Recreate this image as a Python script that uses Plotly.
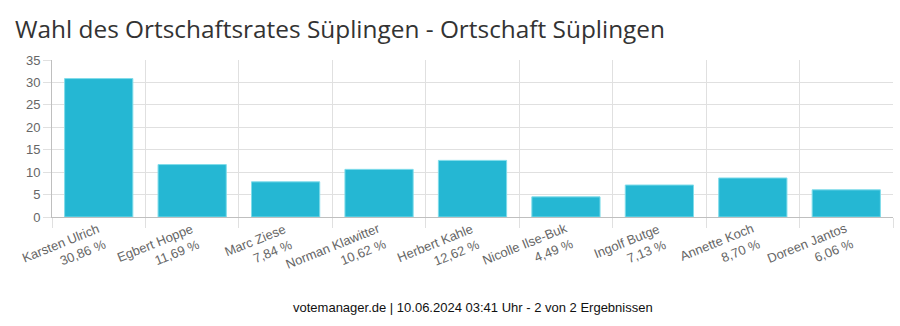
import plotly.graph_objects as go

names = ["Karsten Ulrich", "Egbert Hoppe", "Marc Ziese", "Norman Klawitter",
         "Herbert Kahle", "Nicolle Ilse-Buk", "Ingolf Butge", "Annette Koch",
         "Doreen Jantos"]
values = [30.86, 11.69, 7.84, 10.62, 12.62, 4.49, 7.13, 8.70, 6.06]
pct_labels = ["30,86 %", "11,69 %", "7,84 %", "10,62 %", "12,62 %",
              "4,49 %", "7,13 %", "8,70 %", "6,06 %"]
title_text = "Wahl des Ortschaftsrates Süplingen - Ortschaft Süplingen"
footer_text = "votemanager.de | 10.06.2024 03:41 Uhr - 2 von 2 Ergebnissen"

fig = go.Figure()
fig.add_trace(go.Bar(
    x=names, y=values, width=0.73,
    marker=dict(color="#25b7d3", line=dict(color="#7fdcea", width=1)),
    hoverinfo="skip",
))

annotations = []
for n, p in zip(names, pct_labels):
    annotations.append(dict(
        x=n, xref="x", y=0, yref="paper", text=f"{n}<br>{p}",
        showarrow=False, xanchor="right", yanchor="top", yshift=-1, xshift=12,
        textangle=-22, align="right",
        font=dict(family="Liberation Sans, Arial", size=13, color="#666666"),
    ))
annotations.append(dict(
    x=0.5, xref="paper", y=0, yref="paper", text=footer_text,
    showarrow=False, xanchor="center", yanchor="middle", yshift=-90,
    font=dict(family="Liberation Sans, Arial", size=13, color="#111111"),
))

fig.update_layout(
    width=900, height=326,
    margin=dict(l=52, r=7, t=60, b=109),
    paper_bgcolor="white", plot_bgcolor="white",
    showlegend=False,
    title=dict(text=title_text, x=15 / 900, xanchor="left", xref="container",
               y=1 - 29 / 326, yanchor="middle", yref="container",
               font=dict(family="Open Sans", size=24.4, color="#333333")),
    xaxis=dict(type="category", tickson="boundaries", ticks="outside",
               ticklen=10, tickcolor="#e0e0e0", showticklabels=False,
               showgrid=True, gridcolor="#e0e0e0", gridwidth=1,
               showline=True, linecolor="#bfbfbf", linewidth=1,
               range=[-0.5, 8.5], fixedrange=True),
    yaxis=dict(range=[0, 35], dtick=5, ticks="outside", ticklen=8,
               tickcolor="#e0e0e0", showgrid=True, gridcolor="#e0e0e0",
               zeroline=False, showline=True, linecolor="#bfbfbf",
               linewidth=1,
               tickfont=dict(family="Liberation Sans, Arial", size=13,
                             color="#666666")),
    annotations=annotations,
)

fig.write_html("out.html")
